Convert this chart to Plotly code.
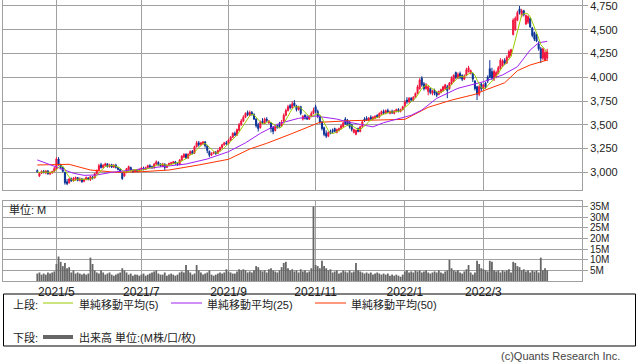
import pandas as pd
import plotly.graph_objects as go

# ---------------- data ----------------
holidays = ["2021-04-29", "2021-05-03", "2021-05-04", "2021-05-05", "2021-07-22",
            "2021-07-23", "2021-08-09", "2021-09-20", "2021-09-23", "2021-11-03",
            "2021-11-23", "2021-12-31", "2022-01-03", "2022-01-10", "2022-02-11",
            "2022-02-23", "2022-03-21"]
dates = [d.strftime("%Y-%m-%d") for d in pd.bdate_range("2021-04-19", "2022-04-13")
         if d.strftime("%Y-%m-%d") not in holidays]

opens = [
    3020, 2960, 2990, 3010, 2995, 3015, 2985, 2995, 3010, 3030,
    3140, 3080, 3050, 3000, 2900, 2890, 2930, 2910, 2925, 2945,
    2915, 2930, 2905, 2925, 2940, 2920, 2950, 2940, 2985, 3020,
    3080, 3050, 3070, 3090, 3060, 3080, 3055, 3075, 3050, 3030,
    2990, 2960, 3000, 3030, 3050, 3020, 3005, 3020, 3010, 3030,
    3045, 3030, 3050, 3070, 3060, 3045, 3085, 3105, 3085, 3060,
    3085, 3050, 3075, 3090, 3095, 3110, 3090, 3080, 3130, 3160,
    3190, 3150, 3190, 3220, 3200, 3270, 3310, 3290, 3300, 3320,
    3280, 3220, 3180, 3200, 3210, 3200, 3230, 3260, 3290, 3310,
    3300, 3340, 3370, 3410, 3390, 3440, 3500, 3540, 3580, 3630,
    3600, 3630, 3610, 3560, 3500, 3470, 3540, 3515, 3560, 3520,
    3520, 3470, 3440, 3490, 3500, 3490, 3540, 3600, 3650, 3700,
    3680, 3730, 3700, 3660, 3690, 3560, 3600, 3580, 3560, 3590,
    3620, 3690, 3640, 3590, 3530, 3470, 3410, 3380, 3430, 3440,
    3460, 3420, 3440, 3460, 3480, 3560, 3550, 3530, 3500, 3420,
    3400, 3460, 3430, 3480, 3560, 3570, 3550, 3580, 3560, 3570,
    3600, 3580, 3610, 3640, 3620, 3650, 3620, 3640, 3620, 3640,
    3660, 3640, 3660, 3700, 3760, 3740, 3780, 3760, 3790, 3830,
    3880, 3990, 3930, 3880, 3850, 3880, 3830, 3860, 3840, 3820,
    3840, 3860, 3880, 3900, 3880, 3930, 3960, 4050, 3990, 4040,
    4020, 3980, 4020, 4060, 4040, 4040, 3960, 3900, 3820, 3930,
    3880, 3940, 4000, 4090, 4060, 3980, 4000, 4040, 4090, 4120,
    4180, 4150, 4210, 4230, 4450, 4500, 4600, 4720, 4650, 4700,
    4560, 4580, 4620, 4520, 4470, 4450, 4350, 4300, 4200, 4180,
    4200]
highs = [
    3030, 3000, 3020, 3025, 3020, 3020, 3005, 3015, 3060, 3160,
    3160, 3090, 3060, 3005, 2930, 2940, 2945, 2950, 2955, 2950,
    2945, 2940, 2935, 2955, 2950, 2960, 2960, 2990, 3030, 3090,
    3100, 3085, 3100, 3095, 3090, 3090, 3085, 3090, 3060, 3040,
    3000, 3010, 3045, 3070, 3060, 3030, 3030, 3030, 3040, 3055,
    3060, 3060, 3080, 3085, 3070, 3100, 3125, 3115, 3095, 3100,
    3095, 3085, 3100, 3110, 3120, 3120, 3100, 3140, 3180, 3200,
    3200, 3200, 3230, 3235, 3280, 3330, 3330, 3320, 3330, 3330,
    3290, 3230, 3210, 3220, 3225, 3240, 3270, 3300, 3320, 3330,
    3350, 3380, 3420, 3430, 3460, 3520, 3560, 3600, 3630, 3650,
    3650, 3645, 3620, 3570, 3520, 3545, 3570, 3575, 3580, 3550,
    3530, 3480, 3500, 3510, 3530, 3550, 3620, 3670, 3710, 3720,
    3750, 3760, 3710, 3700, 3700, 3600, 3610, 3600, 3600, 3640,
    3680, 3710, 3660, 3600, 3540, 3480, 3440, 3430, 3450, 3460,
    3470, 3460, 3470, 3500, 3530, 3580, 3560, 3540, 3510, 3460,
    3450, 3470, 3490, 3550, 3580, 3590, 3580, 3600, 3590, 3600,
    3610, 3630, 3650, 3660, 3660, 3670, 3650, 3660, 3655, 3670,
    3675, 3670, 3700, 3760, 3790, 3790, 3790, 3800, 3840, 3920,
    3990, 4010, 3950, 3940, 3910, 3890, 3870, 3880, 3850, 3860,
    3880, 3910, 3930, 3920, 3950, 4010, 4030, 4060, 4050, 4060,
    4030, 4030, 4100, 4120, 4080, 4050, 3970, 3910, 3920, 3940,
    3930, 3950, 4020, 4180, 4100, 4080, 4070, 4120, 4200, 4190,
    4200, 4230, 4290, 4300, 4620, 4640, 4700, 4750, 4720, 4710,
    4660, 4650, 4630, 4530, 4480, 4460, 4380, 4320, 4310, 4290,
    4300]
lows = [
    2995, 2950, 2985, 2990, 2980, 2975, 2970, 2985, 3000, 3025,
    3070, 3030, 3000, 2870, 2865, 2880, 2900, 2900, 2915, 2905,
    2905, 2890, 2895, 2915, 2915, 2910, 2925, 2935, 2980, 3010,
    3040, 3040, 3060, 3050, 3050, 3045, 3045, 3040, 3020, 3000,
    2920, 2955, 2990, 3020, 3010, 2995, 3000, 3000, 3005, 3020,
    3020, 3025, 3040, 3045, 3040, 3040, 3080, 3070, 3060, 3055,
    3020, 3045, 3070, 3085, 3090, 3080, 3070, 3075, 3120, 3150,
    3140, 3140, 3180, 3190, 3195, 3260, 3270, 3280, 3290, 3260,
    3200, 3160, 3170, 3190, 3185, 3195, 3220, 3250, 3280, 3290,
    3295, 3330, 3360, 3380, 3385, 3430, 3490, 3530, 3570, 3590,
    3595, 3595, 3550, 3470, 3430, 3460, 3510, 3510, 3530, 3510,
    3420, 3400, 3430, 3460, 3470, 3480, 3530, 3590, 3640, 3660,
    3670, 3690, 3640, 3650, 3600, 3545, 3555, 3550, 3550, 3580,
    3610, 3620, 3570, 3510, 3440, 3380, 3360, 3370, 3400, 3410,
    3420, 3410, 3430, 3450, 3470, 3500, 3490, 3460, 3430, 3410,
    3390, 3420, 3420, 3470, 3530, 3540, 3540, 3550, 3550, 3560,
    3570, 3570, 3600, 3610, 3610, 3620, 3610, 3615, 3610, 3630,
    3630, 3630, 3650, 3690, 3720, 3730, 3740, 3750, 3780, 3820,
    3870, 3900, 3860, 3870, 3810, 3820, 3810, 3810, 3790, 3810,
    3830, 3850, 3870, 3780, 3870, 3920, 3950, 3980, 3980, 3980,
    3960, 3970, 4010, 4050, 4030, 3950, 3860, 3760, 3800, 3850,
    3870, 3880, 3940, 3990, 3970, 3960, 3990, 4030, 4080, 4110,
    4130, 4140, 4200, 4220, 4440, 4490, 4590, 4660, 4630, 4640,
    4550, 4560, 4520, 4420, 4380, 4370, 4280, 4150, 4180, 4170,
    4170]
closes = [
    3005, 2990, 3010, 2995, 3015, 2985, 2995, 3010, 3040, 3140,
    3080, 3050, 3010, 2890, 2880, 2930, 2910, 2935, 2945, 2915,
    2930, 2900, 2925, 2945, 2925, 2955, 2935, 2985, 3020, 3070,
    3050, 3075, 3090, 3060, 3080, 3055, 3075, 3050, 3030, 3010,
    2935, 3000, 3040, 3060, 3020, 3005, 3020, 3010, 3030, 3045,
    3030, 3050, 3070, 3055, 3045, 3085, 3110, 3080, 3065, 3090,
    3050, 3075, 3095, 3100, 3110, 3090, 3080, 3130, 3170, 3190,
    3150, 3190, 3220, 3200, 3270, 3310, 3290, 3310, 3320, 3280,
    3230, 3180, 3200, 3210, 3195, 3230, 3260, 3290, 3310, 3300,
    3340, 3370, 3410, 3390, 3450, 3500, 3540, 3580, 3620, 3605,
    3630, 3610, 3560, 3490, 3460, 3530, 3520, 3560, 3545, 3540,
    3460, 3430, 3480, 3470, 3480, 3530, 3600, 3650, 3690, 3680,
    3720, 3700, 3660, 3690, 3620, 3590, 3570, 3560, 3590, 3620,
    3650, 3640, 3590, 3530, 3460, 3400, 3380, 3420, 3410, 3430,
    3430, 3450, 3460, 3490, 3520, 3510, 3500, 3480, 3450, 3450,
    3440, 3430, 3480, 3530, 3540, 3550, 3570, 3560, 3580, 3590,
    3580, 3620, 3640, 3620, 3650, 3630, 3640, 3625, 3645, 3660,
    3640, 3660, 3690, 3740, 3740, 3780, 3760, 3790, 3830, 3900,
    3970, 3920, 3880, 3920, 3900, 3840, 3860, 3830, 3810, 3850,
    3870, 3900, 3920, 3860, 3940, 3990, 4020, 4000, 4030, 4000,
    3980, 4010, 4080, 4100, 4070, 3980, 3880, 3820, 3900, 3880,
    3920, 3900, 3960, 4000, 3990, 4060, 4050, 4100, 4180, 4170,
    4150, 4210, 4270, 4290, 4600, 4620, 4680, 4680, 4700, 4660,
    4650, 4640, 4530, 4440, 4400, 4380, 4300, 4200, 4300, 4260,
    4270]
volume_m = [
    3.5, 4, 3, 3.5, 3, 4, 3.5, 4, 4.5, 8,
    11.5, 9, 7, 8.5, 6, 6.5, 4, 5, 3.5, 4,
    3.5, 3, 3.5, 3, 3.5, 11, 8, 5, 4, 3.5,
    5, 4, 3, 3.5, 4, 3, 2.5, 3, 3.5, 4,
    6, 5, 4, 3, 3.5, 2.5, 3, 3, 2.5, 3,
    3.5, 2.5, 3, 3.5, 4, 4.5, 5, 3.5, 3, 3,
    4, 2.5, 3, 3.5, 3, 2.5, 3, 4, 4.5, 4,
    7.5, 5, 4, 3, 3.5, 7.5, 5, 4, 3, 3.5,
    4, 5, 3, 2.5, 3, 3.5, 4, 3.5, 4, 5.5,
    4.5, 4, 3.5, 3.5, 4.5, 5.5, 5, 5.5, 5, 4,
    4.5, 4, 5, 7, 6.5, 5, 4.5, 5, 4, 5.5,
    6, 5, 4.5, 4, 5, 6.5, 8.5, 9, 6, 5,
    5.5, 4.5, 5, 4, 5.5, 4.5, 5, 4, 4.5, 6,
    35, 7.5, 7, 6, 9.5, 7, 6, 5, 5.5, 4,
    4.5, 5, 3.5, 4, 5, 4.5, 4, 5, 4, 4.5,
    8.5, 5, 4.5, 4, 3.5, 4, 3.5, 4, 3, 3.5,
    4, 3.5, 3, 3.5, 3, 3.5, 2.5, 3, 2.5, 3,
    2.5, 2, 3, 4.5, 5, 4, 4.5, 4, 5, 4.5,
    5, 4, 4.5, 5, 4, 3.5, 4, 4.5, 4, 5,
    4, 3.5, 4.5, 5, 10, 6, 5, 4.5, 5, 4,
    3.5, 4.5, 5.5, 7.5, 4, 3, 4, 9.5, 8, 6,
    5.5, 5, 4.5, 9.5, 9, 5, 4.5, 5, 4, 5,
    4.5, 5, 5.5, 4, 9, 8.5, 7, 6.5, 5, 5.5,
    4.5, 5, 4, 5, 4.5, 5, 4, 11, 5, 6,
    5]

# 25-day and 50-day moving averages (index, value)
ma25_idx = [0, 5, 9, 13, 17, 22, 28, 35, 41, 49, 60, 70, 80, 90, 98, 105, 114, 123, 131,
            137, 141, 146, 151, 156, 158, 163, 170, 176, 181, 188, 198, 206, 210, 219,
            226, 232, 236, 240]
ma25_val = [3130, 3090, 3060, 3030, 2990, 2968, 2972, 3000, 3014, 3035, 3060, 3087, 3140,
            3217, 3310, 3410, 3515, 3568, 3592, 3575, 3560, 3530, 3508, 3480, 3478, 3522,
            3561, 3600, 3655, 3778, 3884, 3929, 3953, 4024, 4111, 4287, 4363, 4378]
ma50_idx = [0, 15, 25, 37, 49, 62, 76, 90, 100, 108, 119, 128, 133, 147, 163, 173, 184,
            195, 206, 210, 220, 226, 232, 240]
ma50_val = [3077, 3084, 3024, 3000, 3006, 3024, 3077, 3137, 3245, 3305, 3400, 3480, 3526,
            3543, 3550, 3557, 3684, 3760, 3820, 3858, 3942, 4069, 4129, 4181]

price_ticks = [3000, 3250, 3500, 3750, 4000, 4250, 4500, 4750]
vol_ticks = [5, 10, 15, 20, 25, 30, 35]
vol_tick_text = ["5M", "10M", "15M", "20M", "25M", "30M", "35M"]
month_ticks = [("2021-05", "2021/5"), ("2021-07", "2021/7"), ("2021-09", "2021/9"),
               ("2021-11", "2021/11"), ("2022-01", "2022/1"), ("2022-03", "2022/3")]

# ---------------- styling / geometry ----------------
UP = "#f0143c"
DOWN = "#0a3296"
C5 = "#99cc00"
C25 = "#a020f0"
C50 = "#ff3300"
GRID = "#a0a0a0"
FONT = "Liberation Sans, Noto Sans CJK JP"
TICKFONT = "Liberation Sans"

W_FIG, H_FIG = 638, 362
ML, MR, MT, MB = 3, 56, 0, 81
PW, PH = W_FIG - ML - MR, H_FIG - MT - MB


def px(x):
    return (x - ML) / PW


def py(y):
    return 1 - (y - MT) / PH


ma5 = pd.Series(closes).rolling(5, min_periods=1).mean().tolist()
tickvals = [next(d for d in dates if d.startswith(m)) for m, _ in month_ticks]
ticktext = [t for _, t in month_ticks]
xr = [-16.15, 256.4]

fig = go.Figure()
fig.add_trace(go.Bar(x=dates, y=volume_m, marker=dict(color="#666666", line=dict(width=0)),
                     xaxis="x", yaxis="y", showlegend=False, hoverinfo="skip"))
fig.add_trace(go.Candlestick(
    x=dates, open=opens, high=highs, low=lows, close=closes,
    increasing=dict(line=dict(color=UP, width=1), fillcolor=UP),
    decreasing=dict(line=dict(color=DOWN, width=1), fillcolor=DOWN),
    whiskerwidth=0, xaxis="x2", yaxis="y2", showlegend=False, hoverinfo="skip"))
fig.add_trace(go.Scatter(x=[dates[i] for i in ma50_idx], y=ma50_val, mode="lines",
                         line=dict(color=C50, width=1), xaxis="x2", yaxis="y2",
                         showlegend=False, hoverinfo="skip"))
fig.add_trace(go.Scatter(x=[dates[i] for i in ma25_idx], y=ma25_val, mode="lines",
                         line=dict(color=C25, width=1), xaxis="x2", yaxis="y2",
                         showlegend=False, hoverinfo="skip"))
fig.add_trace(go.Scatter(x=dates, y=ma5, mode="lines", line=dict(color=C5, width=1),
                         xaxis="x2", yaxis="y2", showlegend=False, hoverinfo="skip"))

axis_common = dict(type="category", categoryorder="array", categoryarray=dates, range=xr,
                   tickvals=tickvals, ticktext=ticktext, showgrid=True, gridcolor=GRID,
                   gridwidth=1, showline=True, mirror=True, linecolor=GRID, linewidth=1,
                   ticks="", rangeslider=dict(visible=False), zeroline=False,
                   automargin=False, fixedrange=True)

fig.update_layout(
    width=W_FIG, height=H_FIG,
    margin=dict(l=ML, r=MR, t=MT, b=MB, autoexpand=False),
    paper_bgcolor="white", plot_bgcolor="white",
    bargap=0.15,
    font=dict(family=FONT, size=11, color="#222222"),
    xaxis=dict(**axis_common, anchor="y", domain=[0, 1],
               tickfont=dict(family=TICKFONT, size=12, color="#222222")),
    xaxis2=dict(**axis_common, anchor="y2", domain=[0, 1], showticklabels=False),
    yaxis=dict(domain=[0, py(201)], range=[0, 37.6], side="right", tickvals=vol_ticks,
               ticktext=vol_tick_text, ticks="outside", ticklen=5, tickcolor=GRID,
               showgrid=True, gridcolor=GRID, showline=True, mirror=True, linecolor=GRID,
               zeroline=False, automargin=False, fixedrange=True,
               ticklabeloverflow="allow",
               tickfont=dict(family=TICKFONT, size=10, color="#222222")),
    yaxis2=dict(domain=[py(190.3), 1], range=[2810.6, 4813], side="right",
                tickvals=price_ticks, tickformat=",d", ticks="outside", ticklen=5,
                tickcolor=GRID, showgrid=True, gridcolor=GRID, showline=True, mirror=True,
                linecolor=GRID, zeroline=False, automargin=False, fixedrange=True,
                ticklabeloverflow="allow",
                tickfont=dict(family=TICKFONT, size=11, color="#222222")),
)

shapes = []
annotations = []
# legend box
shapes.append(dict(type="rect", xref="paper", yref="paper", x0=px(3.5), x1=px(635.5),
                   y0=py(346), y1=py(294), line=dict(color="black", width=1)))
# legend lines
for x0, x1, yy, col, w in [(43, 73, 303, C5, 1), (171, 202, 303, C25, 1),
                           (315, 346, 303, C50, 1), (43, 73, 337, "#666666", 4)]:
    shapes.append(dict(type="line", xref="paper", yref="paper", x0=px(x0), x1=px(x1),
                       y0=py(yy), y1=py(yy), line=dict(color=col, width=w)))


def txt(x, y, s, size=11, color="#222222"):
    annotations.append(dict(xref="paper", yref="paper", x=px(x), y=py(y), text=s,
                            showarrow=False, xanchor="left", yanchor="middle",
                            font=dict(family=FONT, size=size, color=color)))


txt(11, 304, "上段:")
txt(77, 304, "単純移動平均(5)")
txt(205, 304, "単純移動平均(25)")
txt(349, 304, "単純移動平均(50)")
txt(11, 337, "下段:")
txt(77, 337, "出来高 単位:(M株/口/枚)")
txt(7, 209, "単位: M")
txt(499, 356, "(c)Quants Research Inc.", color="#444444")

fig.update_layout(shapes=shapes, annotations=annotations)
fig.write_html("out.html",
               config={"displayModeBar": False, "staticPlot": True},
               post_script="document.body.style.margin='0px';"
                           "document.body.style.overflow='hidden';")
